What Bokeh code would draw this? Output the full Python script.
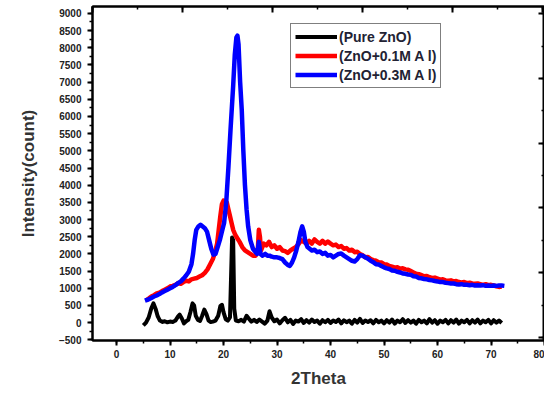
import numpy as np
from bokeh.plotting import figure
from bokeh.models import (Range1d, LinearAxis, SingleIntervalTicker, Legend, LegendItem,
                          CustomJSTickFormatter)
from bokeh.embed import file_html
from bokeh.resources import INLINE

# ---------------- data ----------------
x_ticks_interval = 10
y_ticks_interval = 500

pure_x_head = [5.0, 5.5, 6.0, 6.5, 6.9, 7.3, 7.7, 8.1, 8.6, 9.0,
               9.5, 10.0, 10.5, 11.0, 11.5, 11.8, 12.2, 12.6, 13.0, 13.4,
               13.8, 14.2, 14.5, 14.8, 15.2, 15.6, 16.0, 16.4, 16.8, 17.2,
               17.6, 18.0, 18.5, 19.0, 19.4, 19.7, 20.0, 20.4, 20.8, 21.2,
               21.4, 21.6, 21.8, 22.0, 22.3, 22.8, 23.3, 23.8, 24.3, 24.7,
               25.2, 25.7, 26.2, 26.7, 27.2, 27.7, 28.2, 28.6, 29.0, 29.5]
pure_y_head = [-80, 0, 150, 420, 560, 400, 180, 60, 20, 40,
               10, 30, 20, 60, 180, 230, 120, -20, 40, 80,
               300, 560, 500, 200, 80, 50, 200, 380, 250, 60,
               20, 30, 60, 200, 480, 520, 300, 100, 60, 150,
               1300, 2480, 2400, 400, 60, 40, 80, 30, 200, 120,
               30, 80, 20, 90, 30, -30, 60, 330, 150, 40]
pure_x_tail = np.arange(30.0, 72.01, 0.5)
pure_y_tail = [90, -20, 70, 140, 10, 80, -40, 60, 30, 100,
               -10, 70, 0, 90, 20, 60, -30, 70, 10, 80,
               -10, 60, 20, 90, -20, 70, 10, 60, -30, 80,
               0, 110, -10, 60, 20, 70, -20, 80, 10, 60,
               -20, 70, 0, 90, -30, 60, 10, 100, -10, 70,
               0, 60, -30, 80, 10, 60, -20, 100, 0, 70,
               -30, 60, 10, 80, -20, 70, 0, 90, -30, 60,
               10, 80, -20, 70, 0, 90, -20, 60, 10, 80,
               -20, 70, 0, 60, -10]

al01_x_head = [5.5, 6, 6.5, 7, 7.5, 8, 8.5, 9, 9.5, 10,
               10.5, 11, 11.5, 12, 12.5, 13, 13.5, 14, 14.5, 15,
               15.5, 16, 16.5, 17, 17.5, 18,
               18.4, 18.8, 19.1, 19.4, 19.7, 20.0, 20.3, 20.6, 20.9, 21.2, 21.5, 21.8,
               22.2, 22.6, 23.0, 23.5, 24.0, 24.5, 25.0, 25.5, 26.0,
               26.4, 26.6, 26.8, 27.0]
al01_y_head = [650, 700, 760, 800, 850, 870, 920, 960, 1000, 1050,
               1070, 1100, 1150, 1130, 1180, 1220, 1200, 1260, 1280, 1300,
               1340, 1380, 1450, 1550, 1700, 1850,
               2050, 2300, 2700, 3100, 3450, 3550, 3450, 3500, 3300, 3100, 2900, 2700,
               2550, 2450, 2350, 2200, 2100, 2050, 2000, 1950, 1950,
               2100, 2700, 2500, 2100]
al01_x_tail = np.arange(27.5, 72.01, 0.5)
al01_y_tail = [2300, 2250, 2350, 2200, 2250, 2150, 2200, 2100, 2080, 2030,
               2100, 2150, 2200, 2280, 2400, 2350, 2300, 2380, 2300, 2420,
               2350, 2300, 2380, 2300, 2360, 2300, 2250, 2270, 2200, 2230,
               2150, 2170, 2100, 2120, 2050, 2060, 2000, 1960, 1900, 1910,
               1850, 1820, 1800, 1760, 1750, 1700, 1690, 1650, 1630, 1600,
               1610, 1570, 1580, 1550, 1540, 1500, 1460, 1420, 1410, 1380,
               1350, 1360, 1320, 1300, 1310, 1280, 1250, 1260, 1230, 1220,
               1230, 1200, 1210, 1180, 1170, 1180, 1150, 1160, 1140, 1130,
               1140, 1120, 1100, 1120, 1090, 1100, 1080, 1060, 1040, 1050]

al03_x_head = [5.3, 6, 6.5, 7, 7.5, 8, 8.5, 9, 9.5, 10,
               10.5, 11, 11.5, 12, 12.5, 13, 13.5, 14,
               14.3, 14.6, 14.9,
               15.3, 15.7, 16.1, 16.5, 16.9, 17.3, 17.7, 18.1, 18.5, 18.9,
               19.3, 19.7, 20.1, 20.5, 20.9, 21.3,
               21.8, 22.1, 22.4, 22.6, 22.8, 23.1, 23.4, 23.7, 24.0, 24.3, 24.6, 25.0,
               25.5, 26.0, 26.3, 26.6, 26.9, 27.3, 27.8, 28.2, 28.6, 29.0,
               29.5, 30.0, 30.5, 31.0, 31.5, 32.0, 32.4, 32.8, 33.2, 33.6,
               34.0, 34.4, 34.7, 35.0, 35.3, 35.7, 36.1]
al03_y_head = [640, 680, 720, 760, 790, 830, 880, 920, 960, 1000,
               1040, 1090, 1150, 1200, 1280, 1370, 1480, 1700,
               2000, 2400, 2700,
               2800, 2850, 2800, 2750, 2650, 2400, 2150, 1980, 2000, 2200,
               2400, 2650, 2900, 3500, 4500, 5600,
               6900, 7800, 8300, 8350, 8100, 7000, 6200, 5000, 4000, 3300, 2800, 2400,
               2150, 2050, 2000, 2350, 2000, 1950, 2000, 1950, 1950, 1920,
               1900, 1900, 1880, 1850, 1750, 1680, 1650, 1750, 1900, 2100,
               2350, 2650, 2800, 2650, 2350, 2200, 2150]
al03_x_tail = np.arange(36.5, 72.51, 0.5)
al03_y_tail = [2100, 2120, 2050, 2070, 2000, 2030, 1950, 1970, 1900, 1950,
               2000, 2010, 1950, 1900, 1850, 1800, 1780, 1850, 1960, 1950,
               1900, 1860, 1800, 1760, 1700, 1690, 1650, 1610, 1580, 1560,
               1520, 1510, 1480, 1460, 1430, 1420, 1400, 1390, 1350, 1340,
               1300, 1290, 1270, 1260, 1240, 1230, 1210, 1200, 1180, 1180,
               1160, 1150, 1140, 1140, 1120, 1110, 1120, 1100, 1100, 1090,
               1100, 1080, 1090, 1080, 1090, 1070, 1080, 1070, 1080, 1070,
               1080, 1080, 1070]

series_labels = ["(Pure ZnO)", "(ZnO+0.1M A l)", "(ZnO+0.3M A l)"]
series_colors = ["#000000", "#ff0000", "#0000ff"]

pure_x = list(pure_x_head) + list(pure_x_tail)
pure_y = pure_y_head + pure_y_tail
al01_x = list(al01_x_head) + list(al01_x_tail)
al01_y = al01_y_head + al01_y_tail
al03_x = list(al03_x_head) + list(al03_x_tail)
al03_y = al03_y_head + al03_y_tail

# ---------------- figure ----------------
FONT = "Liberation Sans"
p = figure(width=544, height=390,
           x_range=Range1d(-4.5, 80), y_range=Range1d(-520, 9200),
           output_backend="svg", toolbar_location=None,
           min_border_left=92, min_border_right=0, min_border_top=6, min_border_bottom=49)
p.xgrid.visible = False
p.ygrid.visible = False
p.outline_line_color = "black"
p.outline_line_width = 2
p.background_fill_color = "white"
p.border_fill_color = "white"

xa = p.xaxis[0]
ya = p.yaxis[0]
xa.ticker = SingleIntervalTicker(interval=x_ticks_interval, num_minor_ticks=2)
ya.ticker = SingleIntervalTicker(interval=y_ticks_interval, num_minor_ticks=2)
for ax in (xa, ya):
    ax.axis_line_width = 2
    ax.axis_line_color = "black"
    ax.major_tick_line_width = 2
    ax.minor_tick_line_width = 1.5
    ax.major_tick_out = 5
    ax.major_tick_in = 0
    ax.minor_tick_out = 3
    ax.minor_tick_in = 0
    ax.major_label_text_font = FONT
    ax.major_label_text_font_style = "bold"
    ax.major_label_text_font_size = "10px"
    ax.major_label_text_color = "#222222"
    ax.axis_label_text_font = FONT
    ax.axis_label_text_font_style = "bold"
    ax.axis_label_text_color = "#333333"
    ax.axis_label_text_font_size = "17px"
xa.axis_label = "2Theta"
xa.major_label_standoff = 4
xa.axis_label_standoff = 8
ya.axis_label = "Intensity(count)"
ya.major_label_standoff = 6
ya.axis_label_standoff = 18

# mirrored top/right axes (their own tick spacing, as in the reference), no labels
blank = CustomJSTickFormatter(code="return '';")
p.extra_x_ranges = {"top": Range1d(-1, 4.02)}
p.extra_y_ranges = {"right": Range1d(-1.046, 4.11)}
top = LinearAxis(x_range_name="top", ticker=SingleIntervalTicker(interval=1, num_minor_ticks=2),
                 formatter=blank, major_label_standoff=0,
                 major_tick_in=6, major_tick_out=0, minor_tick_in=3, minor_tick_out=0,
                 axis_line_width=2, major_tick_line_width=2, minor_tick_line_width=1.5)
right = LinearAxis(y_range_name="right", ticker=SingleIntervalTicker(interval=1, num_minor_ticks=2),
                   formatter=blank, major_label_standoff=0,
                   major_tick_in=6, major_tick_out=0, minor_tick_in=3, minor_tick_out=0,
                   axis_line_width=2, major_tick_line_width=2, minor_tick_line_width=1.5)
p.add_layout(top, "above")
p.add_layout(right, "right")

r0 = p.line(pure_x, pure_y, line_color=series_colors[0], line_width=4, line_join="round")
r1 = p.line(al01_x, al01_y, line_color=series_colors[1], line_width=4.5, line_join="round")
r2 = p.line(al03_x, al03_y, line_color=series_colors[2], line_width=4.5, line_join="round")

legend = Legend(items=[LegendItem(label=series_labels[0], renderers=[r0]),
                       LegendItem(label=series_labels[1], renderers=[r1]),
                       LegendItem(label=series_labels[2], renderers=[r2])],
                location=(198, 252))
legend.label_text_font = FONT
legend.label_text_font_style = "bold"
legend.label_text_font_size = "14px"
legend.label_text_color = "#222233"
legend.glyph_width = 42
legend.glyph_height = 17
legend.label_height = 17
legend.label_standoff = 2
legend.spacing = 2
legend.padding = 4
legend.margin = 0
legend.border_line_color = "black"
legend.border_line_width = 1.5
legend.background_fill_alpha = 1
p.add_layout(legend)

open("out.html", "w").write(file_html(p, INLINE))
